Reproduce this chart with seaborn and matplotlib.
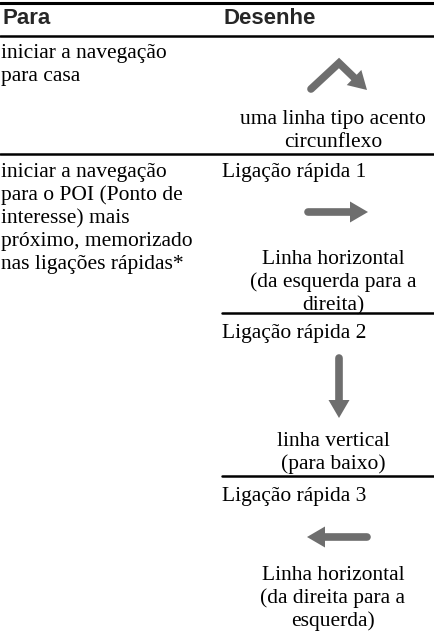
import matplotlib
matplotlib.use("Agg")
import matplotlib.pyplot as plt
import seaborn as sns

# Textos da tabela
cabecalho = ["Para", "Desenhe"]
casa_para = ["iniciar a navegação", "para casa"]
casa_desenhe = ["uma linha tipo acento", "circunflexo"]
poi_para = ["iniciar a navegação", "para o POI (Ponto de", "interesse) mais",
            "próximo, memorizado", "nas ligações rápidas*"]
ligacoes = ["Ligação rápida 1", "Ligação rápida 2", "Ligação rápida 3"]
descricoes = [["Linha horizontal", "(da esquerda para a", "direita)"],
              ["linha vertical", "(para baixo)"],
              ["Linha horizontal", "(da direita para a", "esquerda)"]]

# gestos (em pixels da figura)
gesto_casa = [(311, 89), (339, 63), (367, 90)]
gestos_ligacoes = [[(308, 212), (368, 212)],
                   [(339, 358), (339, 418)],
                   [(367, 537), (307, 537)]]

sns.set_theme(style="white")
plt.rcParams['font.family'] = ['Liberation Serif', 'DejaVu Serif']

W, H = 435, 632
fig = plt.figure(figsize=(W / 100, H / 100), dpi=100)
ax = fig.add_axes([0, 0, 1, 1])
ax.set_xlim(0, W)
ax.set_ylim(H, 0)
ax.axis('off')

serif = dict(family=['Liberation Serif', 'DejaVu Serif'], fontsize=15.5, color='black')
cinza = '#6e6e6e'
x_esq, x_dir, x_centro = 1, 222, 333
passo = 23


def seta(pontos, cab_comp=18, cab_larg=21, lw=5.5):
    xs = [p[0] for p in pontos]
    ys = [p[1] for p in pontos]
    (x0, y0), (x1, y1) = pontos[-2], pontos[-1]
    d = ((x1 - x0) ** 2 + (y1 - y0) ** 2) ** 0.5
    ux, uy = (x1 - x0) / d, (y1 - y0) / d
    bx, by = x1 - ux * cab_comp, y1 - uy * cab_comp
    xs[-1], ys[-1] = bx + ux * 2, by + uy * 2
    ax.plot(xs, ys, color=cinza, lw=lw, solid_capstyle='round',
            solid_joinstyle='miter')
    px, py = -uy, ux
    ax.fill([x1, bx + px * cab_larg / 2, bx - px * cab_larg / 2],
            [y1, by + py * cab_larg / 2, by - py * cab_larg / 2],
            color=cinza, lw=0)


def bloco(linhas, x, y0, ha='left'):
    for i, t in enumerate(linhas):
        ax.text(x, y0 + i * passo, t, ha=ha, va='baseline', **serif)


# linhas da tabela
ax.plot([0, W], [2.5, 2.5], color='black', lw=2.2)
ax.plot([0, W], [36, 36], color='black', lw=1.8)
ax.plot([0, W], [154, 154], color='black', lw=1.8)
ax.plot([x_dir, W], [312.5, 312.5], color='black', lw=1.8)
ax.plot([x_dir, W], [476, 476], color='black', lw=1.8)

# cabeçalho
sans = dict(family=['Liberation Sans', 'DejaVu Sans'], fontweight='bold',
            fontsize=16, va='baseline')
ax.text(x_esq + 1, 24, cabecalho[0], **sans)
ax.text(x_dir + 2, 24, cabecalho[1], **sans)

# linha 1
bloco(casa_para, x_esq, 58)
seta(gesto_casa)
bloco(casa_desenhe, x_centro, 124, ha='center')

# linha 2
bloco(poi_para, x_esq, 177)
topos = [177, 338, 501]
desc_y = [264, 446, 580]
for i in range(3):
    ax.text(x_dir, topos[i], ligacoes[i], va='baseline', **serif)
    seta(gestos_ligacoes[i])
    bloco(descricoes[i], x_centro, desc_y[i], ha='center')

fig.savefig("out.png", dpi=100)
